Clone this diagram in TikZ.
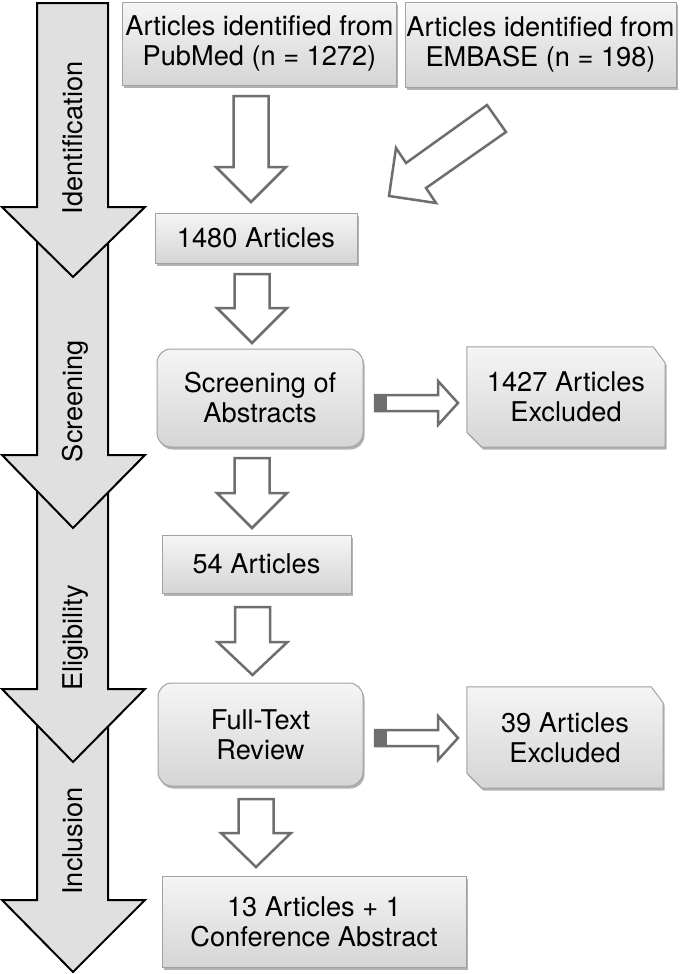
\documentclass[tikz,border=0pt]{standalone}
\usepackage{fontspec}
\setmainfont{TeX Gyre Heros}
\usetikzlibrary{shadows}
\definecolor{boxtop}{HTML}{F5F5F5}
\definecolor{boxbot}{HTML}{D5D5D5}
\definecolor{boxline}{HTML}{A2A2A2}
\definecolor{arrline}{HTML}{6E6E6E}
\definecolor{phasefill}{HTML}{E0E0E0}
\newcommand\mainfs{\fontsize{27.2bp}{30bp}\selectfont}
\newcommand\phasearrow[3]{%
  \draw[phase] (37,#1) -- (37,#2) -- (2,#2) -- (73,#3) -- (145,#2) -- (108,#2) -- (108,#1) -- cycle;}
\newcommand\blkdown[4]{%
  \draw[hollow] (#1-17.5,#2) -- (#1+17.5,#2) -- (#1+17.5,#3) -- (#1+35,#3) -- (#1,#4)
    -- (#1-35,#3) -- (#1-17.5,#3) -- cycle;}
\newcommand\blkright[1]{%
  \draw[hollow] (375,#1-8) -- (438,#1-8) -- (438,#1-22) -- (458,#1) -- (438,#1+22)
    -- (438,#1+8) -- (375,#1+8) -- cycle;
  \fill[arrline] (375,#1-8) rectangle (387,#1+8);}
\newcommand\excshape[1]{%
  \path[excbox] (#1.north west) -- ([xshift=-12bp]#1.north east) -- ([yshift=-16bp]#1.north east)
    -- (#1.south east) -- ([xshift=15bp]#1.south west) -- ([yshift=15bp]#1.south west) -- cycle;}
\tikzset{
  shadowed/.style={drop shadow={shadow xshift=1.5bp, shadow yshift=-2.5bp, opacity=0.3, fill=black}},
  box/.style={draw=boxline, line width=1bp, top color=boxtop, bottom color=boxbot,
    inner sep=0pt, align=center, font=\mainfs, shadowed},
  rbox/.style={box, rounded corners=14bp},
  excbox/.style={draw=boxline, line width=1bp, top color=boxtop, bottom color=boxbot, shadowed},
  holder/.style={inner sep=0pt},
  txt/.style={inner sep=0pt, align=center, font=\mainfs},
  phase/.style={draw=black, line width=2bp, fill=phasefill, line join=miter},
  phaselabel/.style={rotate=90, anchor=base, inner sep=0pt, font=\mainfs},
  hollow/.style={draw=arrline, line width=2.5bp, fill=white, line join=miter},
}
\begin{document}
\begin{tikzpicture}[x=1bp,y=-1bp]
\useasboundingbox (0,0) rectangle (680,974);
\fill[white] (0,0) rectangle (680,974);

% phase arrows (later ones underneath)
\phasearrow{720}{900}{972}
\phasearrow{480}{689}{762}
\phasearrow{240}{455}{528}
\phasearrow{3}{207}{277}
\node[phaselabel] (lid) at (82,138) {Identification};
\node[phaselabel] (lsc) at (82,401) {Screening};
\node[phaselabel] (lel) at (82,638) {Eligibility};
\node[phaselabel] (lin) at (82,841) {Inclusion};

% boxes
\node[box, minimum width=273bp, minimum height=83bp] (pub) at (259.5,43.5)
  {Articles identified from\\PubMed (n = 1272)};
\node[box, minimum width=271bp, minimum height=85bp] (emb) at (540.5,44.5)
  {Articles identified from\\EMBASE (n = 198)};
\node[box, minimum width=202bp, minimum height=50bp] (n1480) at (256,238) {1480 Articles};
\node[rbox, minimum width=206bp, minimum height=98bp] (scr) at (260,398) {Screening of\\Abstracts};
\node[box, minimum width=189bp, minimum height=58bp] (n54) at (256.5,564) {54 Articles};
\node[rbox, minimum width=205bp, minimum height=103bp] (ftr) at (260.5,734.5) {Full-Text\\Review};
\node[box, minimum width=304bp, minimum height=91bp] (fin) at (314,921.5)
  {13 Articles + 1\\Conference Abstract};

% excluded boxes
\node[holder, minimum width=198bp, minimum height=100bp] (exa) at (566,397) {};
\excshape{exa}
\node[txt] (exat) at (exa.center) {1427 Articles\\Excluded};
\node[holder, minimum width=196bp, minimum height=101bp] (exb) at (565,737.5) {};
\excshape{exb}
\node[txt] (exbt) at (exb.center) {39 Articles\\Excluded};

% hollow arrows
\blkdown{251}{96}{167}{202}
\blkdown{252}{274}{308}{343}
\blkdown{252}{458}{493}{528}
\blkdown{252.5}{607}{642}{675}
\blkdown{256}{799}{833}{867}
\draw[hollow] (389,196) -- (396,148) -- (406,163) -- (487,105) -- (506,132) -- (426,188) -- (436,203) -- cycle;
\blkright{403}
\blkright{738}
\end{tikzpicture}
\end{document}
